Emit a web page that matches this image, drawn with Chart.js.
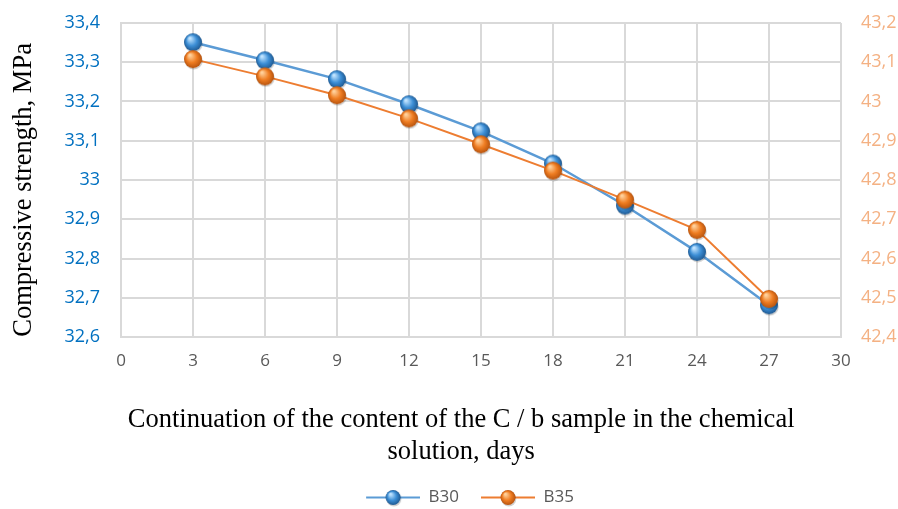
<!DOCTYPE html>
<html><head><meta charset="utf-8">
<script src="https://cdn.jsdelivr.net/npm/chart.js@4.4.1/dist/chart.umd.min.js"></script>
<style>html,body{margin:0;padding:0;background:#fff}#wrap{width:898px;height:509px}</style>
</head><body><div id="wrap"><canvas id="c" width="898" height="509"></canvas></div>
<script>
const days = [3, 6, 9, 12, 15, 18, 21, 24, 27];
const b30 = [33.351, 33.305, 33.257, 33.193, 33.124, 33.042, 32.935, 32.817, 32.681];
const b35 = [43.108, 43.064, 43.016, 42.957, 42.891, 42.824, 42.750, 42.673, 42.497];
const seriesNames = ['B30', 'B35'];
const yTitle = 'Compressive strength, MPa   ';
const xTitle = ['Continuation of the content of the C / b sample in the chemical      ', 'solution, days      '];

function sphere(r, light, base, dark, withLine, lineColor) {
  const lead = 20, lineW = 54;
  const w = withLine ? lead + lineW : r * 2 + 4, h = r * 2 + 4;
  const c = document.createElement('canvas'); c.width = w; c.height = h;
  const g = c.getContext('2d');
  const cx = withLine ? lead + lineW / 2 : w / 2, cy = h / 2;
  if (withLine) { g.strokeStyle = lineColor; g.lineWidth = 2; g.beginPath(); g.moveTo(lead, cy); g.lineTo(w, cy); g.stroke(); }
  g.fillStyle = 'rgba(0,0,0,0.18)'; g.beginPath(); g.arc(cx + 0.8, cy + 1.5, r, 0, Math.PI * 2); g.fill();
  const grad = g.createRadialGradient(cx - r * 0.35, cy - r * 0.45, r * 0.1, cx, cy, r);
  grad.addColorStop(0, light); grad.addColorStop(0.55, base); grad.addColorStop(1, dark);
  g.fillStyle = grad; g.beginPath(); g.arc(cx, cy, r, 0, Math.PI * 2); g.fill();
  return c;
}
const blueDot = sphere(9, '#bfe3ff', '#3d8fd6', '#1f5a93', false);
const orangeDot = sphere(9, '#ffd09a', '#ef7d22', '#b8540e', false);
const blueLeg = sphere(7.5, '#bfe3ff', '#3d8fd6', '#1f5a93', true, '#5B9BD5');
const orangeLeg = sphere(7.5, '#ffd09a', '#ef7d22', '#b8540e', true, '#ED7D31');

const fmt = v => (Math.round(v * 10) / 10).toString().replace('.', ',');

const legendShift = {
  id: 'legendShift',
  afterLayout(chart) { if (chart.legend) { chart.legend.left += 11; chart.legend.right += 11; } }
};

new Chart(document.getElementById('c'), {
  type: 'line',
  data: {
    datasets: [
      { label: seriesNames[0], data: days.map((d, i) => ({ x: d, y: b30[i] })), yAxisID: 'y',
        borderColor: '#5B9BD5', borderWidth: 2.5, pointStyle: blueDot, pointRadius: 9, order: 1, legendStyle: blueLeg },
      { label: seriesNames[1], data: days.map((d, i) => ({ x: d, y: b35[i] })), yAxisID: 'y1',
        borderColor: '#ED7D31', borderWidth: 2, pointStyle: orangeDot, pointRadius: 9, order: 0, legendStyle: orangeLeg }
    ]
  },
  plugins: [legendShift],
  options: {
    responsive: false, animation: false, events: [],
    layout: { padding: { left: 0, right: 0, top: 23, bottom: -7 } },
    scales: {
      x: { type: 'linear', min: 0, max: 30,
        grid: { color: '#d9d9d9', lineWidth: 2, drawTicks: false },
        border: { display: true, color: '#d9d9d9', width: 2 },
        ticks: { stepSize: 3, color: '#595959', font: { family: 'Open Sans', size: 17 }, padding: 14 },
        title: { display: true, text: xTitle, color: '#000', font: { family: 'Liberation Serif', size: 26.5, lineHeight: 1.2 }, padding: { top: 19, bottom: 19 } } },
      y: { position: 'left', min: 32.6, max: 33.4,
        grid: { color: '#d9d9d9', lineWidth: 2, drawTicks: true, tickLength: 9, tickColor: 'rgba(0,0,0,0)' },
        border: { display: true, color: '#d9d9d9', width: 2 },
        ticks: { stepSize: 0.1, color: '#0070C0', font: { family: 'Open Sans', size: 18 }, padding: 12, callback: fmt },
        title: { display: true, text: yTitle, color: '#000', font: { family: 'Liberation Serif', size: 26.5 }, padding: { top: 8, bottom: 0 } },
        afterFit: s => { s.width = 121; } },
      y1: { position: 'right', min: 42.4, max: 43.2, grid: { display: false, drawTicks: true, tickLength: 8 }, border: { display: false },
        ticks: { stepSize: 0.1, color: '#F4B183', font: { family: 'Open Sans', size: 18 }, padding: 12, callback: fmt },
        afterFit: s => { s.width = 57; } }
    },
    plugins: {
      tooltip: { enabled: false },
      legend: { position: 'bottom',
        labels: { usePointStyle: true, pointStyleWidth: 74, color: '#595959', font: { family: 'Open Sans', size: 17 }, padding: 2,
          generateLabels: ch => ch.data.datasets.map((ds, i) => ({ text: ds.label, pointStyle: ds.legendStyle, fillStyle: ds.borderColor, strokeStyle: ds.borderColor, lineWidth: 0, datasetIndex: i, hidden: false, fontColor: '#595959' })) } }
    }
  }
});
</script></body></html>
